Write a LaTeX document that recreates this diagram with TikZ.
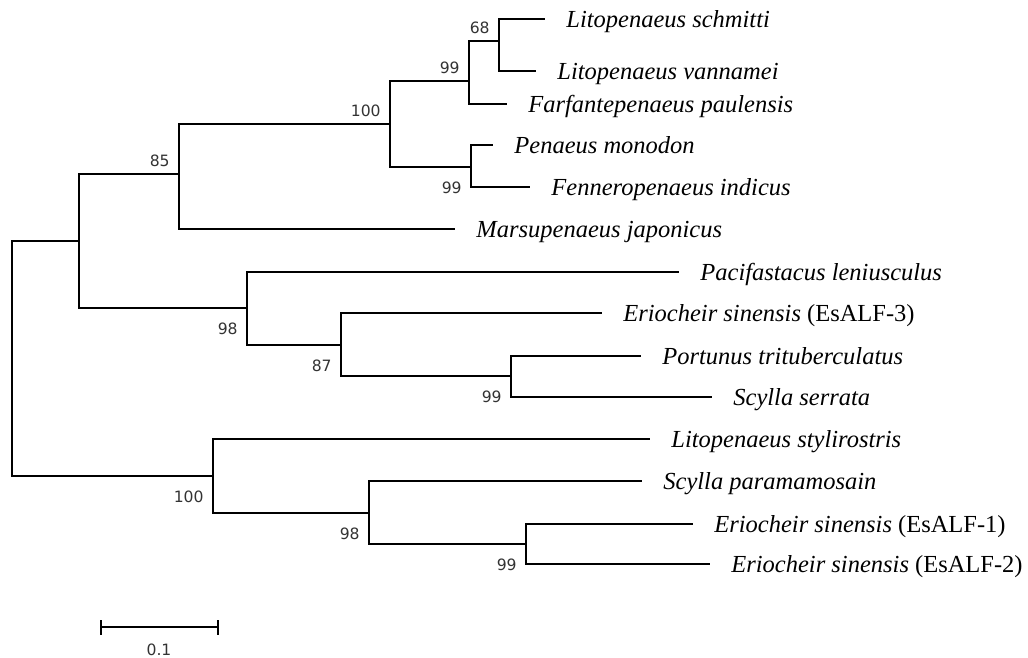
\documentclass[tikz,border=0pt]{standalone}
\usepackage{fontspec}
\setmainfont{Liberation Serif}
\newfontfamily\bootfont{DejaVu Sans}
\usetikzlibrary{positioning}

\begin{document}
\begin{tikzpicture}[x=0.5pt, y=-0.5pt,
  branch/.style={line width=1.1pt, draw=black},
  taxon/.style={inner sep=0pt, text height=11.1pt, text depth=3pt,
                font=\fontsize{12.25}{14}\selectfont\itshape},
  boot/.style={inner sep=0pt, text=black!80, font=\bootfont\fontsize{7.8}{9}\selectfont},
  bootup/.style={boot, left=4.5pt of #1, yshift=6.5pt},
  bootdown/.style={boot, left=4.5pt of #1, yshift=-10.5pt},
]
\useasboundingbox (0,0) rectangle (1028,658);

%% INTERNAL NODES
\coordinate (root)  at (12,358);
\coordinate (nA)    at (79,241);
\coordinate (n85)   at (179,174);
\coordinate (n100a) at (390,124);
\coordinate (n99a)  at (469,81);
\coordinate (n68)   at (499,41);
\coordinate (n99b)  at (471,167);
\coordinate (n98a)  at (247,308);
\coordinate (n87)   at (341,345);
\coordinate (n99c)  at (511,376);
\coordinate (n100b) at (213,476);
\coordinate (n98b)  at (369,513);
\coordinate (n99d)  at (526,544);

%% TIPS
\coordinate (schmitti) at (545,19);
\coordinate (vannamei) at (536,71);
\coordinate (paulens)  at (507,104);
\coordinate (monodon)  at (493,145);
\coordinate (indicus)  at (530,187);
\coordinate (japon)    at (455,229);
\coordinate (lenius)   at (679,272);
\coordinate (esalfC)   at (602,313);
\coordinate (portunus) at (641,356);
\coordinate (serrata)  at (712,397);
\coordinate (stylir)   at (650,439);
\coordinate (paramam)  at (642,481);
\coordinate (esalfA)   at (693,524);
\coordinate (esalfB)   at (710,564);

%% TAXON LABELS
\node[taxon, right=10.5pt of schmitti] (schmittiL) {Litopenaeus schmitti};
\node[taxon, right=10.5pt of vannamei] (vannameiL) {Litopenaeus vannamei};
\node[taxon, right=10.5pt of paulens]  (paulensL)  {Farfantepenaeus paulensis};
\node[taxon, right=10.5pt of monodon]  (monodonL)  {Penaeus monodon};
\node[taxon, right=10.5pt of indicus]  (indicusL)  {Fenneropenaeus indicus};
\node[taxon, right=10.5pt of japon]    (japonL)    {Marsupenaeus japonicus};
\node[taxon, right=10.5pt of lenius]   (leniusL)   {Pacifastacus leniusculus};
\node[taxon, right=10.5pt of esalfC]   (esalfCL)   {Eriocheir sinensis \upshape(EsALF-3)};
\node[taxon, right=10.5pt of portunus] (portunusL) {Portunus trituberculatus};
\node[taxon, right=10.5pt of serrata]  (serrataL)  {Scylla serrata};
\node[taxon, right=10.5pt of stylir]   (stylirL)   {Litopenaeus stylirostris};
\node[taxon, right=10.5pt of paramam]  (paramamL)  {Scylla paramamosain};
\node[taxon, right=10.5pt of esalfA]   (esalfAL)   {Eriocheir sinensis \upshape(EsALF-1)};
\node[taxon, right=10.5pt of esalfB]   (esalfBL)   {Eriocheir sinensis \upshape(EsALF-2)};

%% BRANCHES
\draw[branch] (root)  |- (nA);
\draw[branch] (root)  |- (n100b);
\draw[branch] (nA)    |- (n85);
\draw[branch] (nA)    |- (n98a);
\draw[branch] (n85)   |- (n100a);
\draw[branch] (n85)   |- (japon);
\draw[branch] (n100a) |- (n99a);
\draw[branch] (n100a) |- (n99b);
\draw[branch] (n99a)  |- (n68);
\draw[branch] (n99a)  |- (paulens);
\draw[branch] (n68)   |- (schmitti);
\draw[branch] (n68)   |- (vannamei);
\draw[branch] (n99b)  |- (monodon);
\draw[branch] (n99b)  |- (indicus);
\draw[branch] (n98a)  |- (lenius);
\draw[branch] (n98a)  |- (n87);
\draw[branch] (n87)   |- (esalfC);
\draw[branch] (n87)   |- (n99c);
\draw[branch] (n99c)  |- (portunus);
\draw[branch] (n99c)  |- (serrata);
\draw[branch] (n100b) |- (stylir);
\draw[branch] (n100b) |- (n98b);
\draw[branch] (n98b)  |- (paramam);
\draw[branch] (n98b)  |- (n99d);
\draw[branch] (n99d)  |- (esalfA);
\draw[branch] (n99d)  |- (esalfB);

%% BOOTSTRAP VALUES
\node[bootup=n68]     (b68)   {68};
\node[bootup=n99a]    (b99a)  {99};
\node[bootup=n100a]   (b100a) {100};
\node[bootup=n85]     (b85)   {85};
\node[bootdown=n99b]  (b99b)  {99};
\node[bootdown=n98a]  (b98a)  {98};
\node[bootdown=n87]   (b87)   {87};
\node[bootdown=n99c]  (b99c)  {99};
\node[bootdown=n100b] (b100b) {100};
\node[bootdown=n98b]  (b98b)  {98};
\node[bootdown=n99d]  (b99d)  {99};

%% SCALE BAR
\coordinate (sbL) at (101,627);
\coordinate (sbR) at (218,627);
\draw[branch] (sbL) -- (sbR);
\draw[branch] (sbL) ++(0,-7) -- ++(0,15);
\draw[branch] (sbR) ++(0,-7) -- ++(0,15);
\node[boot] (sbText) at (159,650) {0.1};
\end{tikzpicture}
\end{document}
